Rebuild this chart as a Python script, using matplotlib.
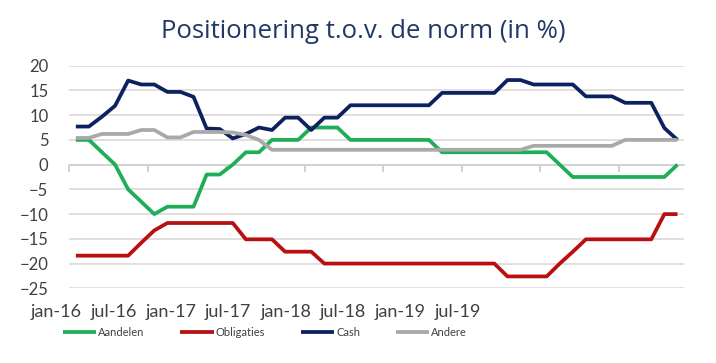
import matplotlib
matplotlib.use("Agg")
import matplotlib.pyplot as plt
import numpy as np

# maandelijkse posities jan-16 .. nov-19
aandelen = [5, 5, 2.5, 0, -5, -7.5, -10, -8.5, -8.5, -8.5, -2, -2, 0, 2.5, 2.5,
            5, 5, 5, 7.5, 7.5, 7.5, 5, 5, 5, 5, 5, 5, 5,
            2.5, 2.5, 2.5, 2.5, 2.5, 2.5, 2.5, 2.5, 2.5, 0,
            -2.5, -2.5, -2.5, -2.5, -2.5, -2.5, -2.5, -2.5, 0]
obligaties = [-18.4, -18.4, -18.4, -18.4, -18.4, -15.8, -13.3,
              -11.8, -11.8, -11.8, -11.8, -11.8, -11.8,
              -15.1, -15.1, -15.1, -17.6, -17.6, -17.6,
              -20, -20, -20, -20, -20, -20, -20, -20, -20, -20, -20, -20, -20, -20,
              -22.6, -22.6, -22.6, -22.6, -20, -17.6,
              -15.1, -15.1, -15.1, -15.1, -15.1, -15.1, -10, -10]
cash = [7.7, 7.7, 9.7, 11.9, 17.0, 16.2, 16.2, 14.7, 14.7, 13.7, 7.3, 7.2,
        5.3, 6.2, 7.5, 7.0, 9.5, 9.5, 7.0, 9.5, 9.5,
        12, 12, 12, 12, 12, 12, 12, 14.5, 14.5, 14.5, 14.5, 14.5,
        17.1, 17.1, 16.2, 16.2, 16.2, 16.2, 13.8, 13.8, 13.8,
        12.5, 12.5, 12.5, 7.4, 5.0]
andere = [5.4, 5.4, 6.2, 6.2, 6.2, 7.0, 7.0, 5.5, 5.5, 6.6, 6.6, 6.6,
          6.5, 6.0, 5.0] + [3.0] * 20 + [3.8] * 7 + [5.0] * 5

tick_labels = ["jan-16", "jul-16", "jan-17", "jul-17", "jan-18", "jul-18", "jan-19", "jul-19"]

series = [
    ("Aandelen", aandelen, "#1fae58"),
    ("Obligaties", obligaties, "#b81010"),
    ("Cash", cash, "#0c2160"),
    ("Andere", andere, "#a9a9a9"),
]

plt.rcParams['font.family'] = ['Lato', 'DejaVu Sans']

fig = plt.figure(figsize=(7.16, 3.63), dpi=100)
ax = fig.add_axes([69.3 / 716, 1 - 288.3 / 363, (684 - 69.3) / 716, (288.3 - 65.7) / 363])

x = np.arange(len(aandelen))
handles = []
for name, vals, col in series:
    h, = ax.plot(x, vals, color=col, lw=2.7, label=name, solid_joinstyle="round",
                 solid_capstyle="butt", zorder=3)
    handles.append(h)

ax.set_xlim(-0.5, len(aandelen) - 0.5)
ax.set_ylim(-25, 20)
ax.set_yticks(np.arange(-25, 21, 5))
ax.grid(axis="y", color="#d9d9d9", lw=1.2, zorder=0)
ax.tick_params(axis="y", length=0, pad=15, labelsize=12, labelcolor="#404040")

for s in ["top", "right", "left"]:
    ax.spines[s].set_visible(False)
ax.spines["bottom"].set_position(("data", 0))
ax.spines["bottom"].set_color("#d0d0d0")
ax.spines["bottom"].set_linewidth(1.2)
ax.set_xticks(np.arange(-0.5, len(aandelen) - 0.5, 6))
ax.tick_params(axis="x", direction="out", length=5, width=1.2, color="#c8c8c8",
               labelbottom=False)

# maandlabels onder de grafiek
label_px = np.linspace(56, 458, len(tick_labels))
for px, lab in zip(label_px, tick_labels):
    fig.text(px / 716, 1 - 312 / 363, lab, ha="center", va="center",
             fontsize=13, color="#404040")

fig.text(363 / 716, 1 - 31 / 363, "Positionering t.o.v. de norm (in %)",
         ha="center", va="center", fontsize=18.5, color="#1f3864",
         family=["Open Sans", "DejaVu Sans"])

fig.legend(handles=handles, loc="center", bbox_to_anchor=(265 / 716, 1 - 332 / 363),
           ncol=4, frameon=False, fontsize=8, handlelength=3.0, handletextpad=0.2,
           columnspacing=3.2, borderpad=0, labelcolor="#404040")

fig.savefig("out.png", dpi=100, facecolor="white")
